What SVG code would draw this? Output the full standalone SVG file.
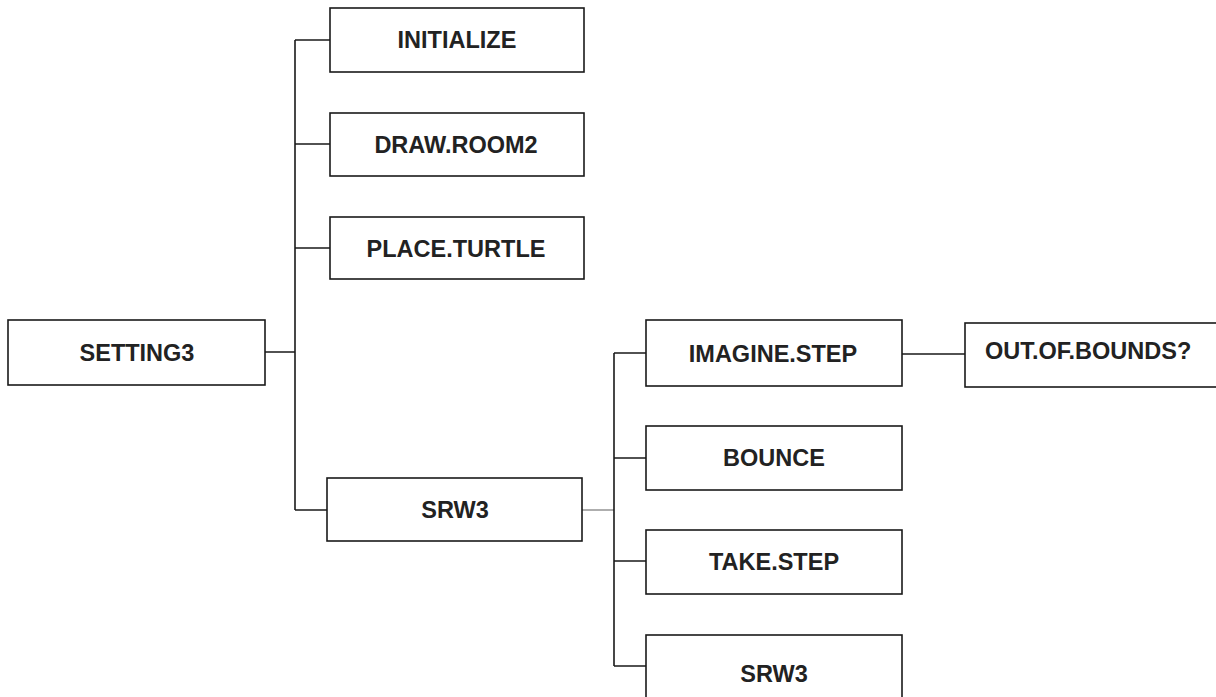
<svg xmlns="http://www.w3.org/2000/svg" width="1216" height="697" viewBox="0 0 1216 697">
<style>
.box{fill:#fff;stroke:#1a1a1a;stroke-width:1.6}
.lbl{font-family:"Liberation Sans",Arial,sans-serif;font-size:23.5px;font-weight:bold;fill:#222;text-anchor:middle}
.ln{fill:none;stroke:#1a1a1a;stroke-width:1.6}
</style>
<rect width="1216" height="697" fill="#fff"/>
<g id="connectors">
<path class="ln" d="M265,352 H295 M295,40 V510 M295,40 H330 M295,144 H330 M295,248 H330 M295,510 H327"/>
<path d="M582,510 H614" fill="none" stroke="#9a9a9a" stroke-width="1.6"/>
<path class="ln" d="M614,353 V666 M614,353 H646 M614,458 H646 M614,561 H646 M614,666 H646 M902,354 H965"/>
</g>
<g id="setting3"><rect class="box" x="8" y="320" width="257" height="65"/><text class="lbl" x="137" y="361">SETTING3</text></g>
<g id="initialize"><rect class="box" x="330" y="8" width="254" height="64"/><text class="lbl" x="457" y="48">INITIALIZE</text></g>
<g id="draw-room2"><rect class="box" x="330" y="113" width="254" height="63"/><text class="lbl" x="456" y="153">DRAW.ROOM2</text></g>
<g id="place-turtle"><rect class="box" x="330" y="217" width="254" height="62"/><text class="lbl" x="456" y="257">PLACE.TURTLE</text></g>
<g id="srw3"><rect class="box" x="327" y="478" width="255" height="63"/><text class="lbl" x="455" y="518">SRW3</text></g>
<g id="imagine-step"><rect class="box" x="646" y="320" width="256" height="66"/><text class="lbl" x="773" y="362">IMAGINE.STEP</text></g>
<g id="out-of-bounds"><rect class="box" x="965" y="323" width="260" height="64"/><text class="lbl" x="985" y="359" style="text-anchor:start">OUT.OF.BOUNDS?</text></g>
<g id="bounce"><rect class="box" x="646" y="426" width="256" height="64"/><text class="lbl" x="774" y="466">BOUNCE</text></g>
<g id="take-step"><rect class="box" x="646" y="530" width="256" height="64"/><text class="lbl" x="774" y="570">TAKE.STEP</text></g>
<g id="srw3-2"><rect class="box" x="646" y="635" width="256" height="77"/><text class="lbl" x="774" y="682">SRW3</text></g>
</svg>
